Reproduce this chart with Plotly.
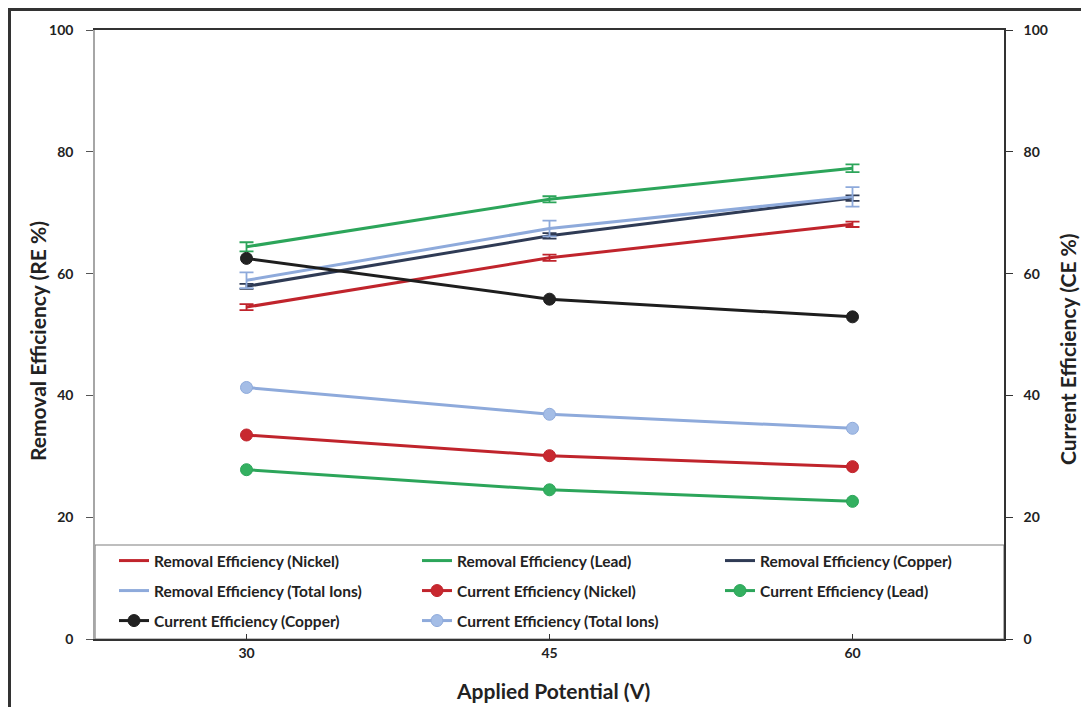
import plotly.graph_objects as go

potential = ["30", "45", "60"]

re_nickel = [54.5, 62.6, 68.1]
re_nickel_err = [0.5, 0.5, 0.45]
re_lead = [64.4, 72.2, 77.3]
re_lead_err = [0.75, 0.5, 0.65]
re_copper = [57.9, 66.2, 72.4]
re_copper_err = [0.4, 0.45, 0.45]
re_total = [58.9, 67.4, 72.6]
re_total_err = [1.3, 1.3, 1.6]

ce_nickel = [33.5, 30.1, 28.3]
ce_lead = [27.8, 24.5, 22.6]
ce_copper = [62.5, 55.8, 52.9]
ce_total = [41.3, 36.9, 34.6]

x_title = "Applied Potential (V)"
y_title = "Removal Efficiency (RE %)"
y2_title = "Current Efficiency (CE %)"

C_NI = "#c0242c"
C_PB = "#2ca55a"
C_CU_RE = "#2f3b55"
C_TOT = "#8eaadb"
C_CU_CE = "#1e1e1e"

FONT = "Lato, 'Open Sans', sans-serif"

fig = go.Figure()

def re_trace(name, y, err, color, legend):
    fig.add_trace(go.Scatter(
        x=potential, y=y, name=name, mode="lines",
        line=dict(color=color, width=3),
        error_y=dict(type="data", array=err, visible=True, color=color,
                     thickness=1.8, width=7),
        legend=legend, yaxis="y"))

def ce_trace(name, y, color, mcolor, legend):
    fig.add_trace(go.Scatter(
        x=potential, y=y, name=name, mode="lines+markers",
        line=dict(color=color, width=3),
        marker=dict(symbol="circle", size=12, color=mcolor,
                    line=dict(color=color, width=1)),
        legend=legend, yaxis="y2"))

re_trace("Removal Efficiency (Nickel)", re_nickel, re_nickel_err, C_NI, "legend")
re_trace("Removal Efficiency (Lead)", re_lead, re_lead_err, C_PB, "legend")
re_trace("Removal Efficiency (Copper)", re_copper, re_copper_err, C_CU_RE, "legend")
re_trace("Removal Efficiency (Total Ions)", re_total, re_total_err, C_TOT, "legend2")
ce_trace("Current Efficiency (Nickel)", ce_nickel, C_NI, "#c8282f", "legend2")
ce_trace("Current Efficiency (Lead)", ce_lead, C_PB, "#33b060", "legend2")
ce_trace("Current Efficiency (Copper)", ce_copper, C_CU_CE, "#222222", "legend3")
ce_trace("Current Efficiency (Total Ions)", ce_total, C_TOT, "#a4bde6", "legend3")

W, H = 1081, 707
PL, PR, PT, PB_ = 95, 1004, 30, 639  # plot area in page pixels
L, T, R, B = PL, PT, W - PR, H - PB_
pw = PR - PL
ph = PB_ - PT

def py(pix):
    return (PB_ - pix) / ph

def px(pix):
    return (pix - PL) / pw

leg_common = dict(orientation="h", xanchor="left", yanchor="middle",
                  x=px(114), bgcolor="rgba(0,0,0,0)", borderwidth=0,
                  entrywidth=258, entrywidthmode="pixels",
                  font=dict(family=FONT, size=15.5, color="#222222", weight="bold"),
                  itemwidth=30, traceorder="normal")

tick_font = dict(family=FONT, size=14, color="#222222", weight="bold")
title_font = dict(family=FONT, size=21, color="#222222", weight="bold")

fig.update_layout(
    width=W, height=H,
    margin=dict(l=L, r=R, t=T, b=B, autoexpand=False),
    paper_bgcolor="white", plot_bgcolor="white",
    font=dict(family=FONT, color="#222222"),
    legend=dict(leg_common, y=py(561)),
    legend2=dict(leg_common, y=py(591)),
    legend3=dict(leg_common, y=py(621)),
    xaxis=dict(
        type="category", range=[-0.5, 2.5], automargin=False,
        showline=True, linecolor="#333333", linewidth=1.5, mirror=True,
        ticks="inside", ticklen=5, tickcolor="#333333",
        showgrid=False, zeroline=False, tickfont=tick_font,
    ),
    yaxis=dict(
        range=[0, 100], tickvals=[0, 20, 40, 60, 80, 100], automargin=False,
        showline=True, linecolor="#a6a6a6", linewidth=1.5,
        ticks="outside", ticklen=7, tickcolor="#555555",
        ticklabelstandoff=10,
        showgrid=False, zeroline=False, tickfont=tick_font,
    ),
    yaxis2=dict(
        overlaying="y", side="right", automargin=False,
        range=[0, 100], tickvals=[0, 20, 40, 60, 80, 100],
        showline=True, linecolor="#333333", linewidth=1.5,
        ticks="outside", ticklen=7, tickcolor="#333333",
        ticklabelstandoff=8,
        showgrid=False, zeroline=False, tickfont=tick_font,
    ),
    annotations=[
        dict(text=x_title, xref="paper", yref="paper", x=px(553), y=py(690),
             xanchor="center", yanchor="middle", showarrow=False, font=title_font),
        dict(text=y_title, xref="paper", yref="paper", x=px(38), y=py(341),
             xanchor="center", yanchor="middle", showarrow=False, textangle=-90,
             font=title_font),
        dict(text=y2_title, xref="paper", yref="paper", x=px(1067), y=py(349),
             xanchor="center", yanchor="middle", showarrow=False, textangle=-90,
             font=title_font),
    ],
    shapes=[
        # legend box
        dict(type="rect", xref="paper", yref="paper",
             x0=0, x1=1, y0=0, y1=py(545),
             line=dict(color="#7f7f7f", width=1.2), fillcolor="rgba(0,0,0,0)",
             layer="below"),
        # outer frame
        dict(type="rect", xref="paper", yref="paper",
             x0=px(9.5), x1=px(1095), y0=py(9.5), y1=py(730),
             line=dict(color="#333333", width=3), fillcolor="rgba(0,0,0,0)",
             layer="above"),
    ],
)

fig.write_html(
    "out.html",
    config={"displayModeBar": False},
    post_script="document.body.style.margin='0';document.body.style.overflow='hidden';",
)
